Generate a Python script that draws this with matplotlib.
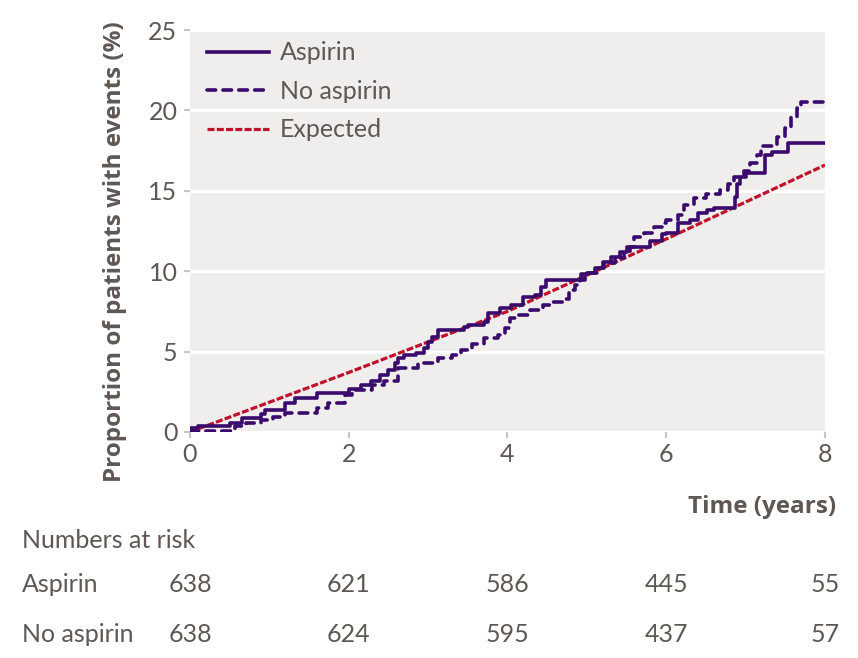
import matplotlib
matplotlib.use("Agg")
import matplotlib.pyplot as plt
from matplotlib.transforms import blended_transform_factory

plt.rcParams['font.family'] = ['Lato', 'DejaVu Sans']

# ---- data ----
aspirin_t = [0, 0.1, 0.5, 0.65, 0.9, 0.95, 1.2, 1.32, 1.6, 2.0, 2.15, 2.28, 2.4, 2.5, 2.58, 2.62,
             2.7, 2.85, 2.95, 3.0, 3.05, 3.12, 3.45, 3.5, 3.7, 3.75, 3.9, 4.05, 4.2, 4.35,
             4.42, 4.48, 4.93, 5.0, 5.1, 5.2, 5.3, 5.42, 5.5, 5.8, 5.95, 6.0, 6.15, 6.3, 6.4,
             6.52, 6.6, 6.87, 6.89, 6.93, 7.0, 7.24, 7.33, 7.53, 8.0]
aspirin_v = [0.25, 0.35, 0.55, 0.85, 1.1, 1.35, 1.8, 2.1, 2.4, 2.7, 2.9, 3.2, 3.55, 3.85, 4.3, 4.6,
             4.8, 4.9, 5.2, 5.6, 5.9, 6.35, 6.5, 6.65, 6.85, 7.4, 7.7, 7.9, 8.4, 8.5,
             9.0, 9.45, 9.8, 9.9, 10.2, 10.6, 10.9, 11.2, 11.5, 11.9, 12.3, 12.4, 13.0, 13.2, 13.6,
             13.8, 13.9, 14.6, 15.4, 15.85, 16.1, 17.2, 17.4, 18.0, 18.0]

noasp_t = [0, 0.57, 0.7, 0.9, 1.05, 1.2, 1.6, 1.74, 1.95, 2.04, 2.29, 2.45, 2.62, 2.87,
           3.13, 3.3, 3.42, 3.55, 3.71, 3.88, 3.97, 4.03, 4.1, 4.28, 4.45,
           4.55, 4.7, 4.78, 4.85, 4.92, 4.98, 5.15, 5.22, 5.35, 5.47, 5.55, 5.6, 5.72, 5.85,
           5.95, 6.0, 6.15, 6.22, 6.35, 6.5, 6.68, 6.78, 6.85, 6.98, 7.05, 7.15, 7.2, 7.4, 7.5,
           7.57, 7.65, 7.7, 8.0]
noasp_v = [0.06, 0.35, 0.55, 0.75, 0.95, 1.15, 1.5, 1.8, 2.3, 2.6, 2.9, 3.2, 4.0, 4.3,
           4.6, 4.8, 5.1, 5.5, 5.85, 6.05, 6.45, 7.1, 7.3, 7.6, 7.9,
           8.1, 8.3, 8.8, 9.15, 9.45, 9.9, 10.2, 10.5, 10.8, 11.2, 11.5, 12.1, 12.4, 12.75,
           13.0, 13.2, 13.5, 14.1, 14.55, 14.8, 15.05, 15.4, 15.85, 16.2, 16.7, 17.2, 17.8, 18.35, 18.9,
           19.6, 20.15, 20.5, 20.5]

expected_t = [0, 2, 4, 5, 6, 7, 8]
expected_v = [0, 3.7, 7.5, 9.75, 12.0, 14.3, 16.6]

xticks = [0, 2, 4, 6, 8]
yticks = [0, 5, 10, 15, 20, 25]
risk_aspirin = [638, 621, 586, 445, 55]
risk_noasp = [638, 624, 595, 437, 57]

# ---- style ----
purple = '#3a0b6c'
red = '#c0112b'
txt = '#5e5754'
bg = '#efeeed'

fig = plt.figure(figsize=(8.58, 6.58), dpi=100)
ax = fig.add_axes([0.2214, 0.3435, 0.7401, 0.6109])
ax.set_facecolor(bg)

ax.plot(expected_t, expected_v, color=red, lw=2.3, linestyle=(0, (2.2, 0.7)), label='Expected', zorder=3)
ax.plot(aspirin_t, aspirin_v, color=purple, lw=2.6, drawstyle='steps-post', label='Aspirin', zorder=4)
ax.plot(noasp_t, noasp_v, color=purple, lw=2.6, drawstyle='steps-post', linestyle=(0, (2.4, 2.0)),
        dash_capstyle='round', label='No aspirin', zorder=4)

ax.set_xlim(0, 8)
ax.set_ylim(0, 25)
ax.set_xticks(xticks)
ax.set_yticks(yticks)
for s in ax.spines.values():
    s.set_visible(False)
ax.yaxis.grid(True, color='white', lw=2.5)
ax.set_axisbelow(True)
ax.tick_params(axis='both', colors='#c8c6c4', labelcolor=txt, labelsize=18, length=4, width=1.5)
ax.tick_params(axis='y', pad=5)
ax.tick_params(axis='x', pad=4)

h, l = ax.get_legend_handles_labels()
order = [1, 2, 0]
leg = ax.legend([h[i] for i in order], [l[i] for i in order], loc='upper left',
                bbox_to_anchor=(0.0, 1.015), frameon=False, fontsize=18, handlelength=2.45,
                labelspacing=0.62, handletextpad=0.45, borderaxespad=0.3)
for t in leg.get_texts():
    t.set_color(txt)

fig.text(115 / 858, 1 - 252 / 658, 'Proportion of patients with events (%)', rotation=90,
         ha='center', va='center', fontsize=17.5, fontweight='bold', color=txt, family='Open Sans')
fig.text(836 / 858, 1 - 507 / 658, 'Time (years)', ha='right', va='center',
         fontsize=17.5, fontweight='bold', color=txt, family='Open Sans')

kw = dict(fontsize=18, color=txt)
fig.text(22 / 858, 1 - 540 / 658, 'Numbers at risk', ha='left', va='center', **kw)
fig.text(22 / 858, 1 - 584 / 658, 'Aspirin', ha='left', va='center', **kw)
fig.text(22 / 858, 1 - 634 / 658, 'No aspirin', ha='left', va='center', **kw)
tr = blended_transform_factory(ax.transData, fig.transFigure)
for x, a, b in zip(xticks, risk_aspirin, risk_noasp):
    ax.text(x, 1 - 584 / 658, str(a), transform=tr, ha='center', va='center', clip_on=False, **kw)
    ax.text(x, 1 - 634 / 658, str(b), transform=tr, ha='center', va='center', clip_on=False, **kw)

fig.savefig('out.png', dpi=100, facecolor='white')
